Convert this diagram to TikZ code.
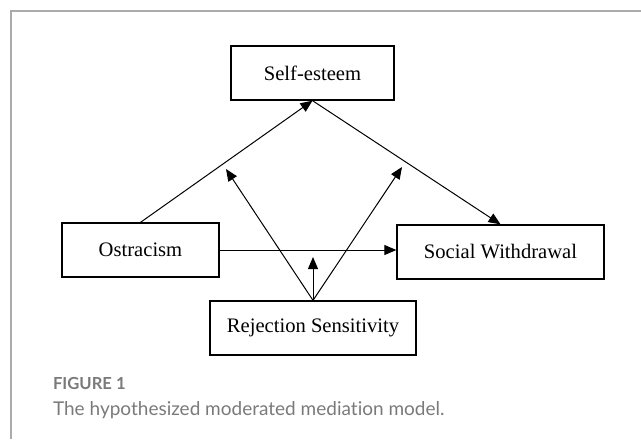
\documentclass[tikz,border=0pt]{standalone}
\usepackage{fontspec}
\setmainfont{Liberation Serif}
\newfontfamily\capfont[Ligatures=NoCommon]{Lato}
\usepackage{tikz}
\usetikzlibrary{arrows.meta}
\definecolor{framegray}{HTML}{ABABAB}
\definecolor{capgray}{HTML}{7A7A7A}
\tikzstyle{var}=[draw, line width=0.65pt, minimum height=27pt, inner sep=0pt, font=\fontsize{10.3}{12}\selectfont]
\tikzstyle{path}=[line width=0.5pt, -{Triangle[length=6pt,width=5pt]}]

\begin{document}
\begin{tikzpicture}
        [x=0.5pt,y=-0.5pt]
            \useasboundingbox (0,0) rectangle (641,439);
            \draw [framegray, line width=0.75pt] (11,439) -- (11,11) -- (641,11);
            \node [var, minimum width=81.5pt] (se) at (312.5,73) {Self-esteem};
            \node [var, minimum width=78.5pt] (ost) at (140.5,250) {Ostracism};
            \node [var, minimum width=103.5pt] (sw) at (500.5,252) {Social Withdrawal};
            \node [var, minimum width=103pt] (rs) at (313,328) {Rejection Sensitivity};
            \coordinate (ma) at (226,169);
            \coordinate (mb) at (402,167);
            \coordinate (mc) at (313,257);
            \draw [path] (ost.north) -- (se.south);
            \draw [path] (se.south) -- (sw.north);
            \draw [path] (ost.east) -- (ost.east -| sw.west);
            \draw [path] (rs.north) -- (ma);
            \draw [path] (rs.north) -- (mb);
            \draw [path] (rs.north) -- (mc);
            \node [anchor=base west, capgray, font=\capfont\bfseries\fontsize{8.3}{9}\selectfont] (fig) at (46,389) {FIGURE 1};
            \node [anchor=base west, capgray, font=\capfont\fontsize{9.5}{11}\selectfont] (cap) at (46,415) {The hypothesized moderated mediation model.};
        \end{tikzpicture}
\end{document}
